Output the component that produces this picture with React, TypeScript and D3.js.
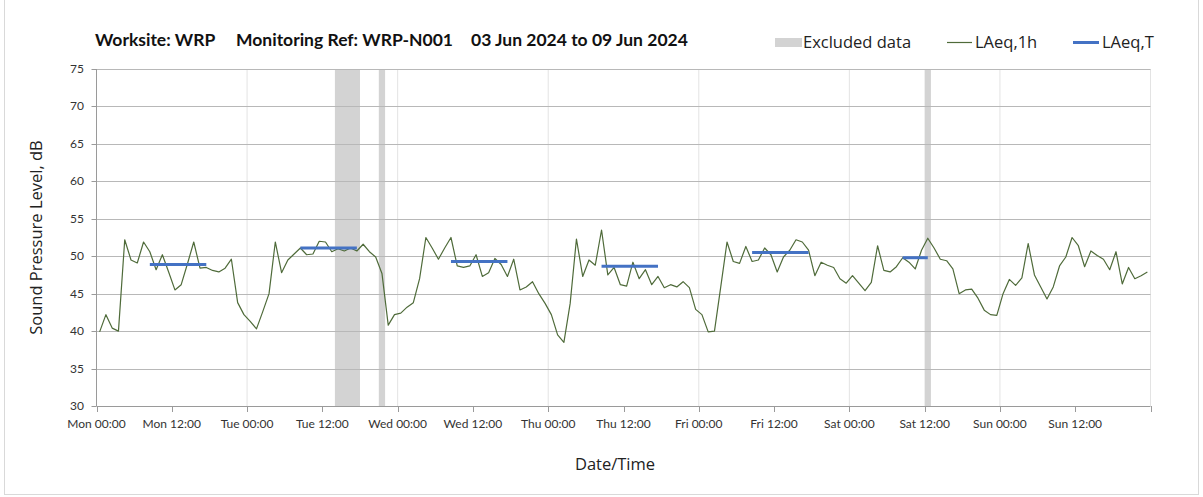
import React from "react";
import * as d3 from "d3";

// Hourly LAeq,1h values (dB) per day, hour 00..23
const monLAeq = [39.9, 42.2, 40.4, 40.0, 52.2, 49.5, 49.1, 51.9, 50.6, 48.2, 50.2, 47.9, 45.5, 46.2, 49.0, 51.9, 48.4, 48.5, 48.1, 47.9, 48.4, 49.6, 43.8, 42.2];
const tueLAeq = [41.3, 40.3, 42.6, 45.0, 51.9, 47.8, 49.5, 50.3, 51.1, 50.2, 50.3, 52.0, 51.9, 50.6, 51.0, 50.7, 51.1, 50.7, 51.6, 50.6, 49.9, 47.7, 40.8, 42.2];
const wedLAeq = [42.4, 43.2, 43.8, 47.0, 52.5, 51.1, 49.6, 51.1, 52.5, 48.7, 48.5, 48.7, 50.2, 47.3, 47.8, 49.7, 48.9, 47.3, 49.6, 45.5, 45.9, 46.6, 45.0, 43.7];
const thuLAeq = [42.2, 39.5, 38.5, 43.7, 52.3, 47.3, 49.5, 48.8, 53.5, 47.5, 48.5, 46.2, 46.0, 49.2, 47.0, 48.2, 46.2, 47.3, 45.8, 46.2, 45.9, 46.6, 45.8, 42.9];
const friLAeq = [42.2, 39.9, 40.0, 45.9, 51.9, 49.3, 49.05, 51.3, 49.3, 49.5, 51.1, 50.2, 47.9, 49.9, 50.8, 52.2, 51.9, 50.8, 47.4, 49.2, 48.8, 48.5, 47.0, 46.4];
const satLAeq = [47.4, 46.4, 45.4, 46.5, 51.4, 48.1, 47.9, 48.6, 49.8, 49.2, 48.3, 50.8, 52.4, 51.1, 49.6, 49.4, 48.3, 45.0, 45.5, 45.6, 44.4, 42.8, 42.2, 42.1];
const sunLAeq = [45.0, 46.9, 46.1, 47.1, 51.7, 47.5, 45.9, 44.3, 45.9, 48.7, 49.9, 52.5, 51.4, 48.6, 50.7, 50.1, 49.6, 48.2, 50.6, 46.3, 48.5, 47.0, 47.4, 47.9];

// LAeq,T periods (hours from Mon 00:00) and values
const laeqTStart = [8, 32, 56, 80, 104, 128];
const laeqTEnd = [17, 41, 65, 89, 113, 132];
const laeqTValues = [48.9, 51.1, 49.3, 48.65, 50.5, 49.8];

// Excluded data periods (hours from Mon 00:00)
const excludedStart = [38, 45, 132];
const excludedEnd = [42, 46, 133];

const dayNames = ["Mon", "Tue", "Wed", "Thu", "Fri", "Sat", "Sun"];
const yTicks = [30, 35, 40, 45, 50, 55, 60, 65, 70, 75];

const W = 1203;
const H = 497;

export default function App() {
  const hourly = [...monLAeq, ...tueLAeq, ...wedLAeq, ...thuLAeq, ...friLAeq, ...satLAeq, ...sunLAeq];
  const x = d3.scaleLinear().domain([0, 168]).range([96.5, 1150.5]);
  const y = d3.scaleLinear().domain([30, 75]).range([406, 69]);

  const line = d3
    .line<number>()
    .x((_, i) => x(i + 0.5))
    .y((d) => y(d));

  const xTicks = d3.range(0, 169, 12);
  const dayLines = d3.range(24, 169, 24);
  const labelTicks = d3.range(0, 168, 12);

  const tickFont = "Lato, 'Open Sans', sans-serif";
  const uiFont = "'Open Sans', 'Noto Sans', sans-serif";

  return (
    <div style={{ position: "absolute", left: 0, top: 0 }}>
      <svg width={W} height={H} style={{ display: "block", background: "#fff" }}>
        <rect x={4.5} y={-5} width={1194} height={499.5} fill="none" stroke="#d9d9d9" />
        {/* Title */}
        <g fontFamily={tickFont} fontWeight={700} fontSize={17.5} fill="#111">
          <text x={95} y={46}>Worksite: WRP</text>
          <text x={236} y={46}>Monitoring Ref: WRP-N001</text>
          <text x={471} y={46}>03 Jun 2024 to 09 Jun 2024</text>
        </g>
        {/* Legend */}
        <g fontFamily={uiFont} fontSize={16.5} fill="#222">
          <rect x={775} y={38} width={27} height={9} fill="#d3d3d3" />
          <text x={803} y={48}>Excluded data</text>
          <line x1={947} x2={972} y1={42.5} y2={42.5} stroke="#4f6b3a" strokeWidth={1.2} />
          <text x={975} y={48}>LAeq,1h</text>
          <line x1={1073} x2={1099} y1={42.5} y2={42.5} stroke="#4472c4" strokeWidth={3} />
          <text x={1102} y={48}>LAeq,T</text>
        </g>
        {/* Excluded bands */}
        {excludedStart.map((s, i) => (
          <rect key={"ex" + i} x={x(s)} y={y(75)} width={x(excludedEnd[i]) - x(s)} height={y(30) - y(75)} fill="#d3d3d3" />
        ))}
        {/* Vertical day gridlines */}
        {dayLines.map((d) => (
          <line key={"vd" + d} x1={x(d)} x2={x(d)} y1={y(75)} y2={y(30)} stroke="#e3e3e3" strokeWidth={1} />
        ))}
        {/* Horizontal gridlines */}
        {yTicks.slice(1).map((t) => (
          <line key={"hg" + t} x1={x(0)} x2={x(168)} y1={Math.round(y(t)) + 0.5} y2={Math.round(y(t)) + 0.5} stroke="#b8b8b8" strokeWidth={1} />
        ))}
        {/* Axes */}
        <line x1={x(0)} x2={x(0)} y1={y(75)} y2={y(30)} stroke="#9a9a9a" />
        <line x1={x(0)} x2={x(168)} y1={Math.round(y(30)) + 0.5} y2={Math.round(y(30)) + 0.5} stroke="#9a9a9a" />
        {yTicks.map((t) => (
          <g key={"yt" + t}>
            <line x1={x(0) - 5} x2={x(0)} y1={Math.round(y(t)) + 0.5} y2={Math.round(y(t)) + 0.5} stroke="#9a9a9a" />
            <text x={84} y={y(t) + 4} textAnchor="end" fontFamily={tickFont} fontSize={12} fill="#333">
              {t}
            </text>
          </g>
        ))}
        {xTicks.map((t) => (
          <line key={"xt" + t} x1={Math.round(x(t)) + 0.5} x2={Math.round(x(t)) + 0.5} y1={y(30)} y2={y(30) + 6} stroke="#9a9a9a" />
        ))}
        {labelTicks.map((t) => (
          <text key={"xl" + t} x={x(t)} y={428} textAnchor="middle" fontFamily={tickFont} fontSize={12} fill="#333">
            {dayNames[Math.floor(t / 24)] + " " + (t % 24 === 0 ? "00:00" : "12:00")}
          </text>
        ))}
        {/* Axis titles */}
        <text x={615} y={470} textAnchor="middle" fontFamily={uiFont} fontSize={16.5} fill="#222">
          Date/Time
        </text>
        <text
          transform={`translate(42, ${y(52.5)}) rotate(-90)`}
          textAnchor="middle"
          fontFamily={uiFont}
          fontSize={16.5}
          fill="#222"
        >
          Sound Pressure Level, dB
        </text>
        {/* LAeq,1h line */}
        <path d={line(hourly) || ""} fill="none" stroke="#4f6b3a" strokeWidth={1.2} strokeLinejoin="round" />
        {/* LAeq,T lines */}
        {laeqTValues.map((v, i) => (
          <line
            key={"lt" + i}
            x1={x(laeqTStart[i] + 0.5)}
            x2={x(laeqTEnd[i] + 0.5)}
            y1={y(v)}
            y2={y(v)}
            stroke="#4472c4"
            strokeWidth={3}
          />
        ))}
      </svg>
    </div>
  );
}
